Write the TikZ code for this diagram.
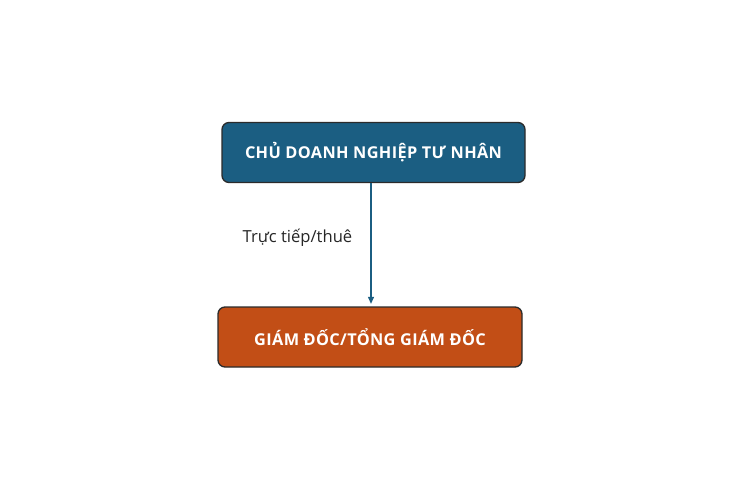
\documentclass[tikz,border=0pt]{standalone}
\usepackage{fontspec}
\setmainfont{Open Sans}
\usetikzlibrary{arrows.meta}
\definecolor{topblue}{HTML}{1B5E82}
\definecolor{botorange}{HTML}{C24E16}
\definecolor{edgegray}{HTML}{2B2B2B}
\tikzset{
  box/.style={draw=edgegray, line width=1.3pt, rounded corners=7pt, minimum height=60pt, text=white, font=\bfseries\fontsize{16.3}{19}\selectfont\addfontfeature{LetterSpace=2.2}, inner sep=0pt},
  conn/.style={draw=topblue, line width=1.1pt, -{Triangle[length=7pt,width=6pt]}, shorten >=2.5pt},
  lbl/.style={font=\fontsize{16.6}{19}\selectfont, text=black!85}
}
\begin{document}
\begin{tikzpicture}[x=1pt,y=-1pt]
\useasboundingbox (0,0) rectangle (750,500);
\node[box, fill=topblue, minimum width=303pt] (owner) at (373.5,152.5) {CHỦ DOANH NGHIỆP TƯ NHÂN};
\node[box, fill=botorange, minimum width=304pt] (ceo) at (370,337) {GIÁM ĐỐC/TỔNG GIÁM ĐỐC};
\draw[conn] (owner.south -| 371,0) -- (ceo.north -| 371,0);
\node[lbl] (lab) at (297.5,238) {Trực tiếp/thuê};
\end{tikzpicture}
\end{document}
